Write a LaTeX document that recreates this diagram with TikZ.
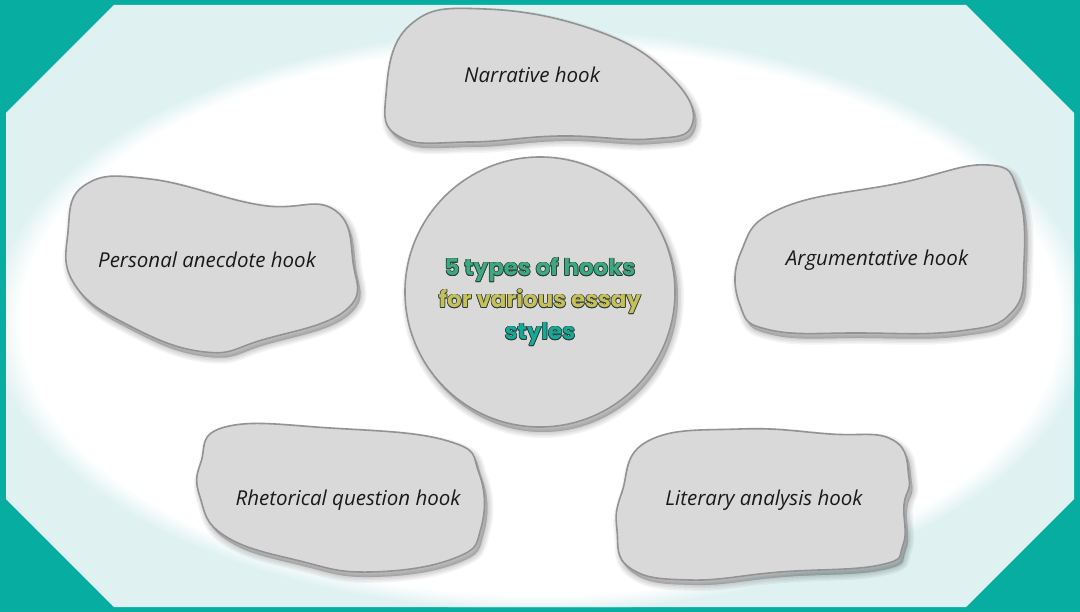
\documentclass[tikz,border=0pt]{standalone}
\usepackage{fontspec}
\setmainfont{Open Sans}
\newfontfamily\titlefont{Poppins}
\definecolor{bgteal}{HTML}{08ADA1}
\definecolor{panel}{HTML}{DFF1F1}
\definecolor{blobfill}{HTML}{D9D9D9}
\definecolor{blobline}{HTML}{939393}
\definecolor{tline}{HTML}{2A3A32}
\definecolor{tone}{HTML}{3DA882}
\definecolor{ttwo}{HTML}{C6BF5C}
\definecolor{tthree}{HTML}{16A899}
\pgfdeclareradialshading{glow}{\pgfpointorigin}{color(0bp)=(white); color(23.6bp)=(white); color(25bp)=(panel); color(50bp)=(panel)}
\newcommand{\olt}[2]{\setbox0=\hbox{#2}%
 \leavevmode
 \rlap{\color{tline}\kern0.7pt\copy0}%
 \rlap{\color{tline}\kern-0.7pt\copy0}%
 \rlap{\color{tline}\raise0.7pt\copy0}%
 \rlap{\color{tline}\raise-0.7pt\copy0}%
 \rlap{\color{tline}\kern0.5pt\raise0.5pt\copy0}%
 \rlap{\color{tline}\kern-0.5pt\raise0.5pt\copy0}%
 \rlap{\color{tline}\kern0.5pt\raise-0.5pt\copy0}%
 \rlap{\color{tline}\kern-0.5pt\raise-0.5pt\copy0}%
 {\color{#1}\copy0}}
\tikzset{
  blobshape/.style={fill=blobfill, draw=blobline, line width=1.6pt, line join=round},
  blobshadow/.style={fill=black, draw=black, opacity=0.045, line join=round},
  hooklabel/.style={font=\fontsize{20.5}{24}\selectfont\itshape, text=black!90},
  titlelabel/.style={font=\titlefont\bfseries\fontsize{23}{32}\selectfont, align=center}
}
\newcommand{\hookblob}[1]{%
  \foreach \w in {12,9,6,3,0.5}{\draw[blobshadow, line width=\w pt, shift={(3,5)}] plot[smooth cycle, tension=0.75] coordinates {#1};}
  \draw[blobshape] plot[smooth cycle, tension=0.75] coordinates {#1};}
\begin{document}
\begin{tikzpicture}[x=1pt,y=-1pt]
\useasboundingbox (0,0) rectangle (1080,612);
\fill[bgteal] (0,0) rectangle (1080,612);
\fill[panel] (114,5) -- (966,5) -- (1074,113) -- (1074,499) -- (966,607) -- (114,607) -- (6,499) -- (6,113) -- cycle;
\begin{scope}
\clip (114,5) -- (966,5) -- (1074,113) -- (1074,499) -- (966,607) -- (114,607) -- (6,499) -- (6,113) -- cycle;
\shade[shading=glow] (540,320) ellipse [x radius=550, y radius=291];
\end{scope}
% blobs
\hookblob{(386,95) (410,25) (485,9) (600,32) (672,78) (692,125) (650,139) (560,136) (470,142) (400,137)}
\hookblob{(68,232) (85,185) (150,179) (260,205) (333,209) (353,262) (346,310) (262,340) (205,352) (130,326) (75,285)}
\hookblob{(741,252) (782,208) (900,183) (988,165) (1018,192) (1024,262) (1012,312) (960,331) (860,333) (770,330) (740,305)}
\hookblob{(201,462) (225,427) (330,428) (448,441) (479,473) (481,528) (455,558) (370,572) (300,561) (225,536) (200,497)}
\hookblob{(622,492) (648,441) (740,429) (830,434) (893,440) (909,478) (904,505) (903,545) (880,565) (780,572) (690,580) (630,568) (617,530)}
% center circle
\foreach \w in {12,9,6,3,0.5}{\draw[blobshadow, line width=\w pt] (543,297) circle [radius=135];}
\draw[blobshape] (540,292) circle [radius=135];
% labels
\node[hooklabel] (narr) at (532,75) {Narrative hook};
\node[hooklabel] (pers) at (207,260) {Personal anecdote hook};
\node[hooklabel] (argu) at (877,260) {Argumentative hook};
\node[hooklabel] (rhet) at (348,500) {Rhetorical question hook};
\node[hooklabel] (lite) at (764,500) {Literary analysis hook};
\node[titlelabel] (title) at (540,302) {\olt{tone}{5 types of hooks}\\\olt{ttwo}{for various essay}\\\olt{tthree}{styles}};
\end{tikzpicture}
\end{document}
